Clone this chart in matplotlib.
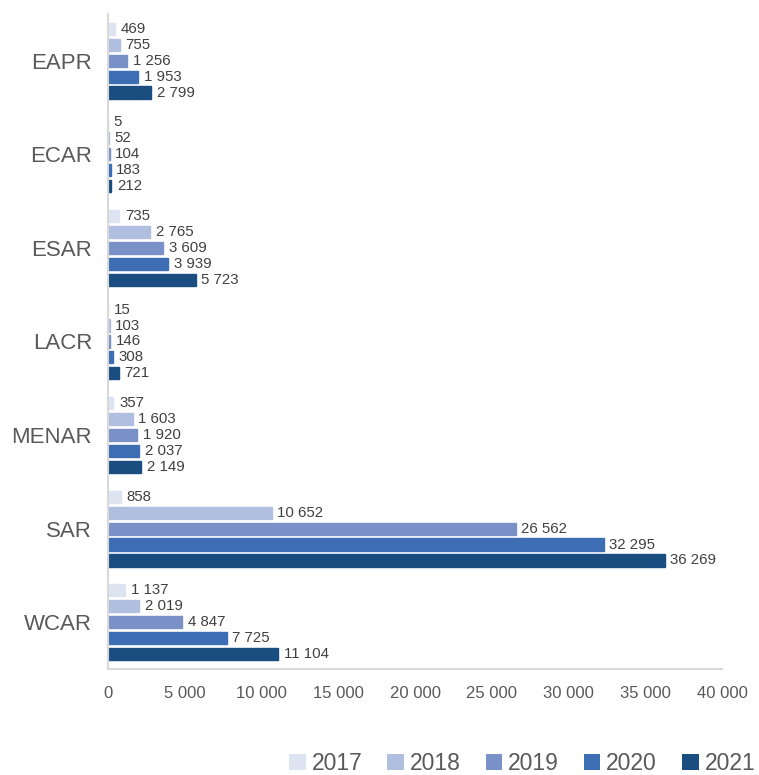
import numpy as np
import matplotlib.pyplot as plt
from matplotlib.patches import Patch

regions = ['EAPR', 'ECAR', 'ESAR', 'LACR', 'MENAR', 'SAR', 'WCAR']
years = ['2017', '2018', '2019', '2020', '2021']
v2017 = [469, 5, 735, 15, 357, 858, 1137]
v2018 = [755, 52, 2765, 103, 1603, 10652, 2019]
v2019 = [1256, 104, 3609, 146, 1920, 26562, 4847]
v2020 = [1953, 183, 3939, 308, 2037, 32295, 7725]
v2021 = [2799, 212, 5723, 721, 2149, 36269, 11104]
colors = ['#dde3f0', '#b0bfdf', '#7a91c7', '#3d6db3', '#1a4d80']

plt.rcParams['font.family'] = ['Liberation Sans', 'DejaVu Sans']

def fmt(v):
    return f'{v:,}'.replace(',', ' ')

fig = plt.figure(figsize=(7.59, 7.75), dpi=100)
ax = fig.add_axes([0.1423, 0.1368, 0.809, 0.8452])

series = [v2017, v2018, v2019, v2020, v2021]
y = np.arange(len(regions))
slot = 0.17
h = 0.13
for i, (vals, c) in enumerate(zip(series, colors)):
    pos = y + (i - 2) * slot
    ax.barh(pos, vals, height=h, color=c, edgecolor=c, linewidth=1.0, zorder=2)
    for p, v in zip(pos, vals):
        ax.annotate(fmt(v), (v, p), xytext=(4, 0), textcoords='offset points',
                    va='center', ha='left', fontsize=10.8, color='#404040')

ax.set_ylim(len(regions) - 0.5, -0.5)
ax.set_xlim(0, 40000)
ax.set_yticks(y)
ax.set_yticklabels(regions, fontsize=16, color='#595959')
ax.set_xticks(np.arange(0, 40001, 5000))
ax.set_xticklabels([fmt(t) for t in range(0, 40001, 5000)], fontsize=12, color='#595959')
ax.tick_params(axis='both', length=0)
ax.tick_params(axis='x', pad=12)
ax.tick_params(axis='y', pad=11.5)
for s in ['top', 'right']:
    ax.spines[s].set_visible(False)
for s in ['left', 'bottom']:
    ax.spines[s].set_color('#d9d9d9')
    ax.spines[s].set_linewidth(1.5)

handles = [Patch(facecolor=c, edgecolor='none') for c in colors]
fig.legend(handles, years, loc='lower left', bbox_to_anchor=(0.381, 0.0), ncol=5,
           frameon=False, fontsize=16.5, handlelength=0.72, handleheight=0.72,
           handletextpad=0.25, columnspacing=1.1, borderpad=0.0, borderaxespad=0.0,
           labelcolor='#595959')

fig.savefig('out.png', dpi=100)
